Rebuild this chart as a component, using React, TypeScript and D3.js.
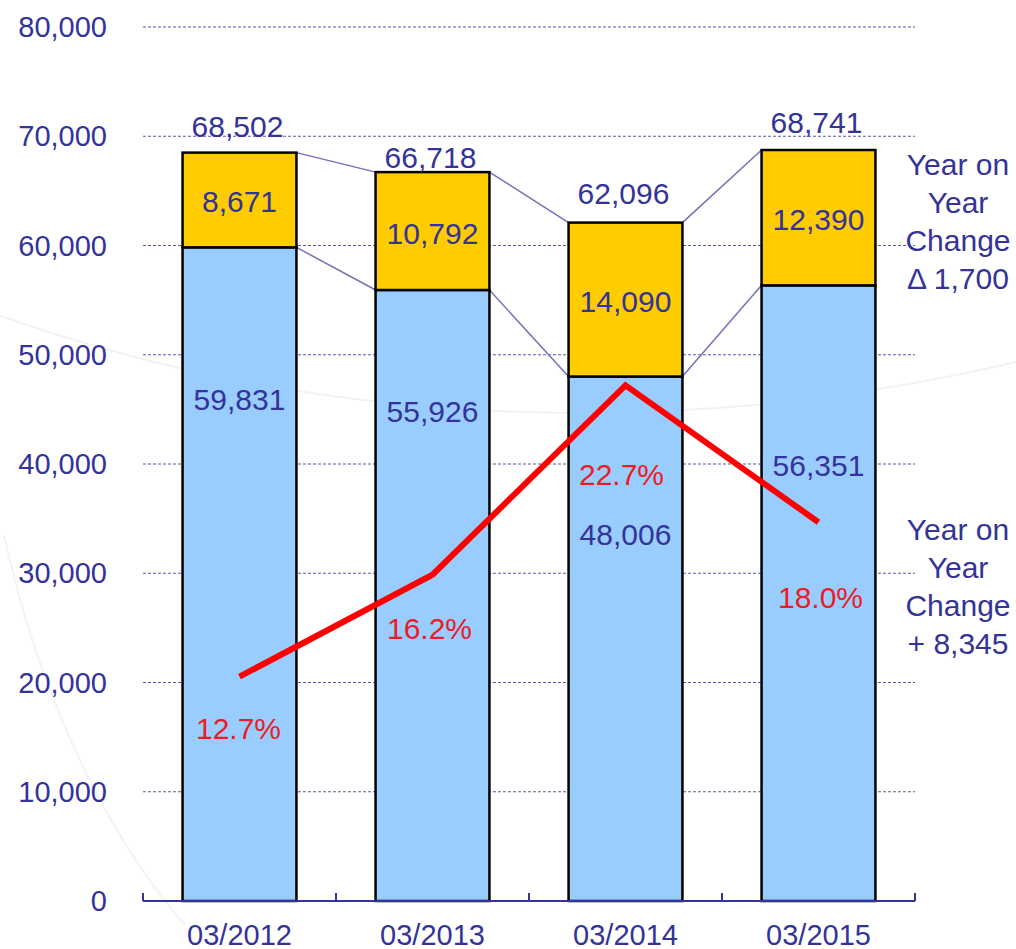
import React from "react";
import * as d3 from "d3";

// ---------- data ----------
const categories = ["03/2012", "03/2013", "03/2014", "03/2015"];
const baseValues = [59831, 55926, 48006, 56351];
const topValues = [8671, 10792, 14090, 12390];
const totals = [68502, 66718, 62096, 68741];
const ratios = [12.7, 16.2, 22.7, 18.0];
const yTicks = [0, 10000, 20000, 30000, 40000, 50000, 60000, 70000, 80000];
const noteTop = ["Year on", "Year", "Change", "Δ 1,700"];
const noteBottom = ["Year on", "Year", "Change", "+ 8,345"];

// ---------- layout (label nudges, px) ----------
const totalLabelDy = [-26, -15, -29, -28];
const baseLabelDy = [152, 121, 158, 180];
const ratioLabelDx = [-1, -3, -4, 2];
const ratioLabelDy = [52, 54, 89, 75];

const W = 1016;
const H = 949;
const NAVY = "#333399";
const RED = "#ec1c24";
const FONT = "'Liberation Sans', Arial, sans-serif";

export default function App() {
  const y = d3.scaleLinear().domain([0, 80000]).range([901, 27]);
  const y2 = d3.scaleLinear().domain([5, 35]).range([901, 27]);
  const x = d3.scaleBand<string>().domain(categories).range([143, 915]).padding(0);
  const bw = x.bandwidth() * 0.59;
  const cx = (c: string) => (x(c) as number) + x.bandwidth() / 2;
  const fmt = d3.format(",");

  const linePath = d3
    .line<number>()
    .x((_, i) => cx(categories[i]))
    .y((d) => y2(d))(ratios) as string;

  const boundaries = [...categories.map((c) => x(c) as number), 915];

  return (
    <svg width={W} height={H} style={{ display: "block", position: "absolute", left: 0, top: 0 }} fontFamily={FONT}>
      <rect x={0} y={0} width={W} height={H} fill="#ffffff" />
      {/* faint decorative background curves */}
      <path d="M -10,312 C 260,410 620,455 1016,362" fill="none" stroke="#f0f2f7" strokeWidth={2} />
      <path d="M 4,535 C 40,700 110,840 185,925" fill="none" stroke="#f2f3f7" strokeWidth={2} />

      {/* gridlines */}
      {yTicks.filter((t) => t > 0).map((t) => (
        <line key={t} x1={143} x2={915} y1={y(t)} y2={y(t)} stroke="#5a5aa8" strokeWidth={1} strokeDasharray="3,2" />
      ))}

      {/* y tick labels */}
      {yTicks.map((t) => (
        <text key={t} x={107} y={y(t)} textAnchor="end" dominantBaseline="central" fontSize={29} fill={NAVY}>
          {fmt(t)}
        </text>
      ))}

      {/* connector lines */}
      {categories.slice(0, -1).map((c, i) => {
        const xr = cx(c) + bw / 2;
        const xl = cx(categories[i + 1]) - bw / 2;
        return (
          <g key={c} stroke="#7272b6" strokeWidth={1.5}>
            <line x1={xr} y1={y(totals[i])} x2={xl} y2={y(totals[i + 1])} />
            <line x1={xr} y1={y(baseValues[i])} x2={xl} y2={y(baseValues[i + 1])} />
          </g>
        );
      })}

      {/* bars */}
      {categories.map((c, i) => {
        const x0 = cx(c) - bw / 2;
        return (
          <g key={c} stroke="#000" strokeWidth={2.5}>
            <rect x={x0} y={y(baseValues[i])} width={bw} height={y(0) - y(baseValues[i])} fill="#99ccff" />
            <rect
              x={x0}
              y={y(baseValues[i] + topValues[i])}
              width={bw}
              height={y(baseValues[i]) - y(baseValues[i] + topValues[i])}
              fill="#ffcc00"
            />
          </g>
        );
      })}

      {/* axis */}
      <line x1={143} x2={915} y1={y(0)} y2={y(0)} stroke={NAVY} strokeWidth={2} />
      {boundaries.map((b, i) => (
        <line key={i} x1={b} x2={b} y1={y(0)} y2={y(0) - 8} stroke={NAVY} strokeWidth={2} />
      ))}
      {categories.map((c) => (
        <text key={c} x={cx(c)} y={935} textAnchor="middle" dominantBaseline="central" fontSize={29} fill={NAVY}>
          {c}
        </text>
      ))}

      {/* segment labels */}
      {categories.map((c, i) => (
        <g key={c} fontSize={30} fill={NAVY} textAnchor="middle">
          <text x={cx(c) - 2} y={y(totals[i]) + totalLabelDy[i]} dominantBaseline="central">
            {fmt(totals[i])}
          </text>
          <text
            x={cx(c)}
            y={(y(baseValues[i]) + y(baseValues[i] + topValues[i])) / 2 + 2}
            dominantBaseline="central"
          >
            {fmt(topValues[i])}
          </text>
          <text x={cx(c)} y={y(baseValues[i]) + baseLabelDy[i]} dominantBaseline="central">
            {fmt(baseValues[i])}
          </text>
        </g>
      ))}

      {/* ratio line */}
      <path d={linePath} fill="none" stroke="#ff0000" strokeWidth={6} strokeLinejoin="miter" strokeLinecap="butt" />
      {categories.map((c, i) => (
        <text
          key={c}
          x={cx(c) + ratioLabelDx[i]}
          y={y2(ratios[i]) + ratioLabelDy[i]}
          textAnchor="middle"
          dominantBaseline="central"
          fontSize={30}
          fill={RED}
        >
          {ratios[i].toFixed(1)}%
        </text>
      ))}

      {/* notes */}
      {noteTop.map((t, i) => (
        <text key={"a" + i} x={958} y={164 + i * 38} textAnchor="middle" dominantBaseline="central" fontSize={30} fill={NAVY}>
          {t}
        </text>
      ))}
      {noteBottom.map((t, i) => (
        <text key={"b" + i} x={958} y={529 + i * 38} textAnchor="middle" dominantBaseline="central" fontSize={30} fill={NAVY}>
          {t}
        </text>
      ))}
    </svg>
  );
}
